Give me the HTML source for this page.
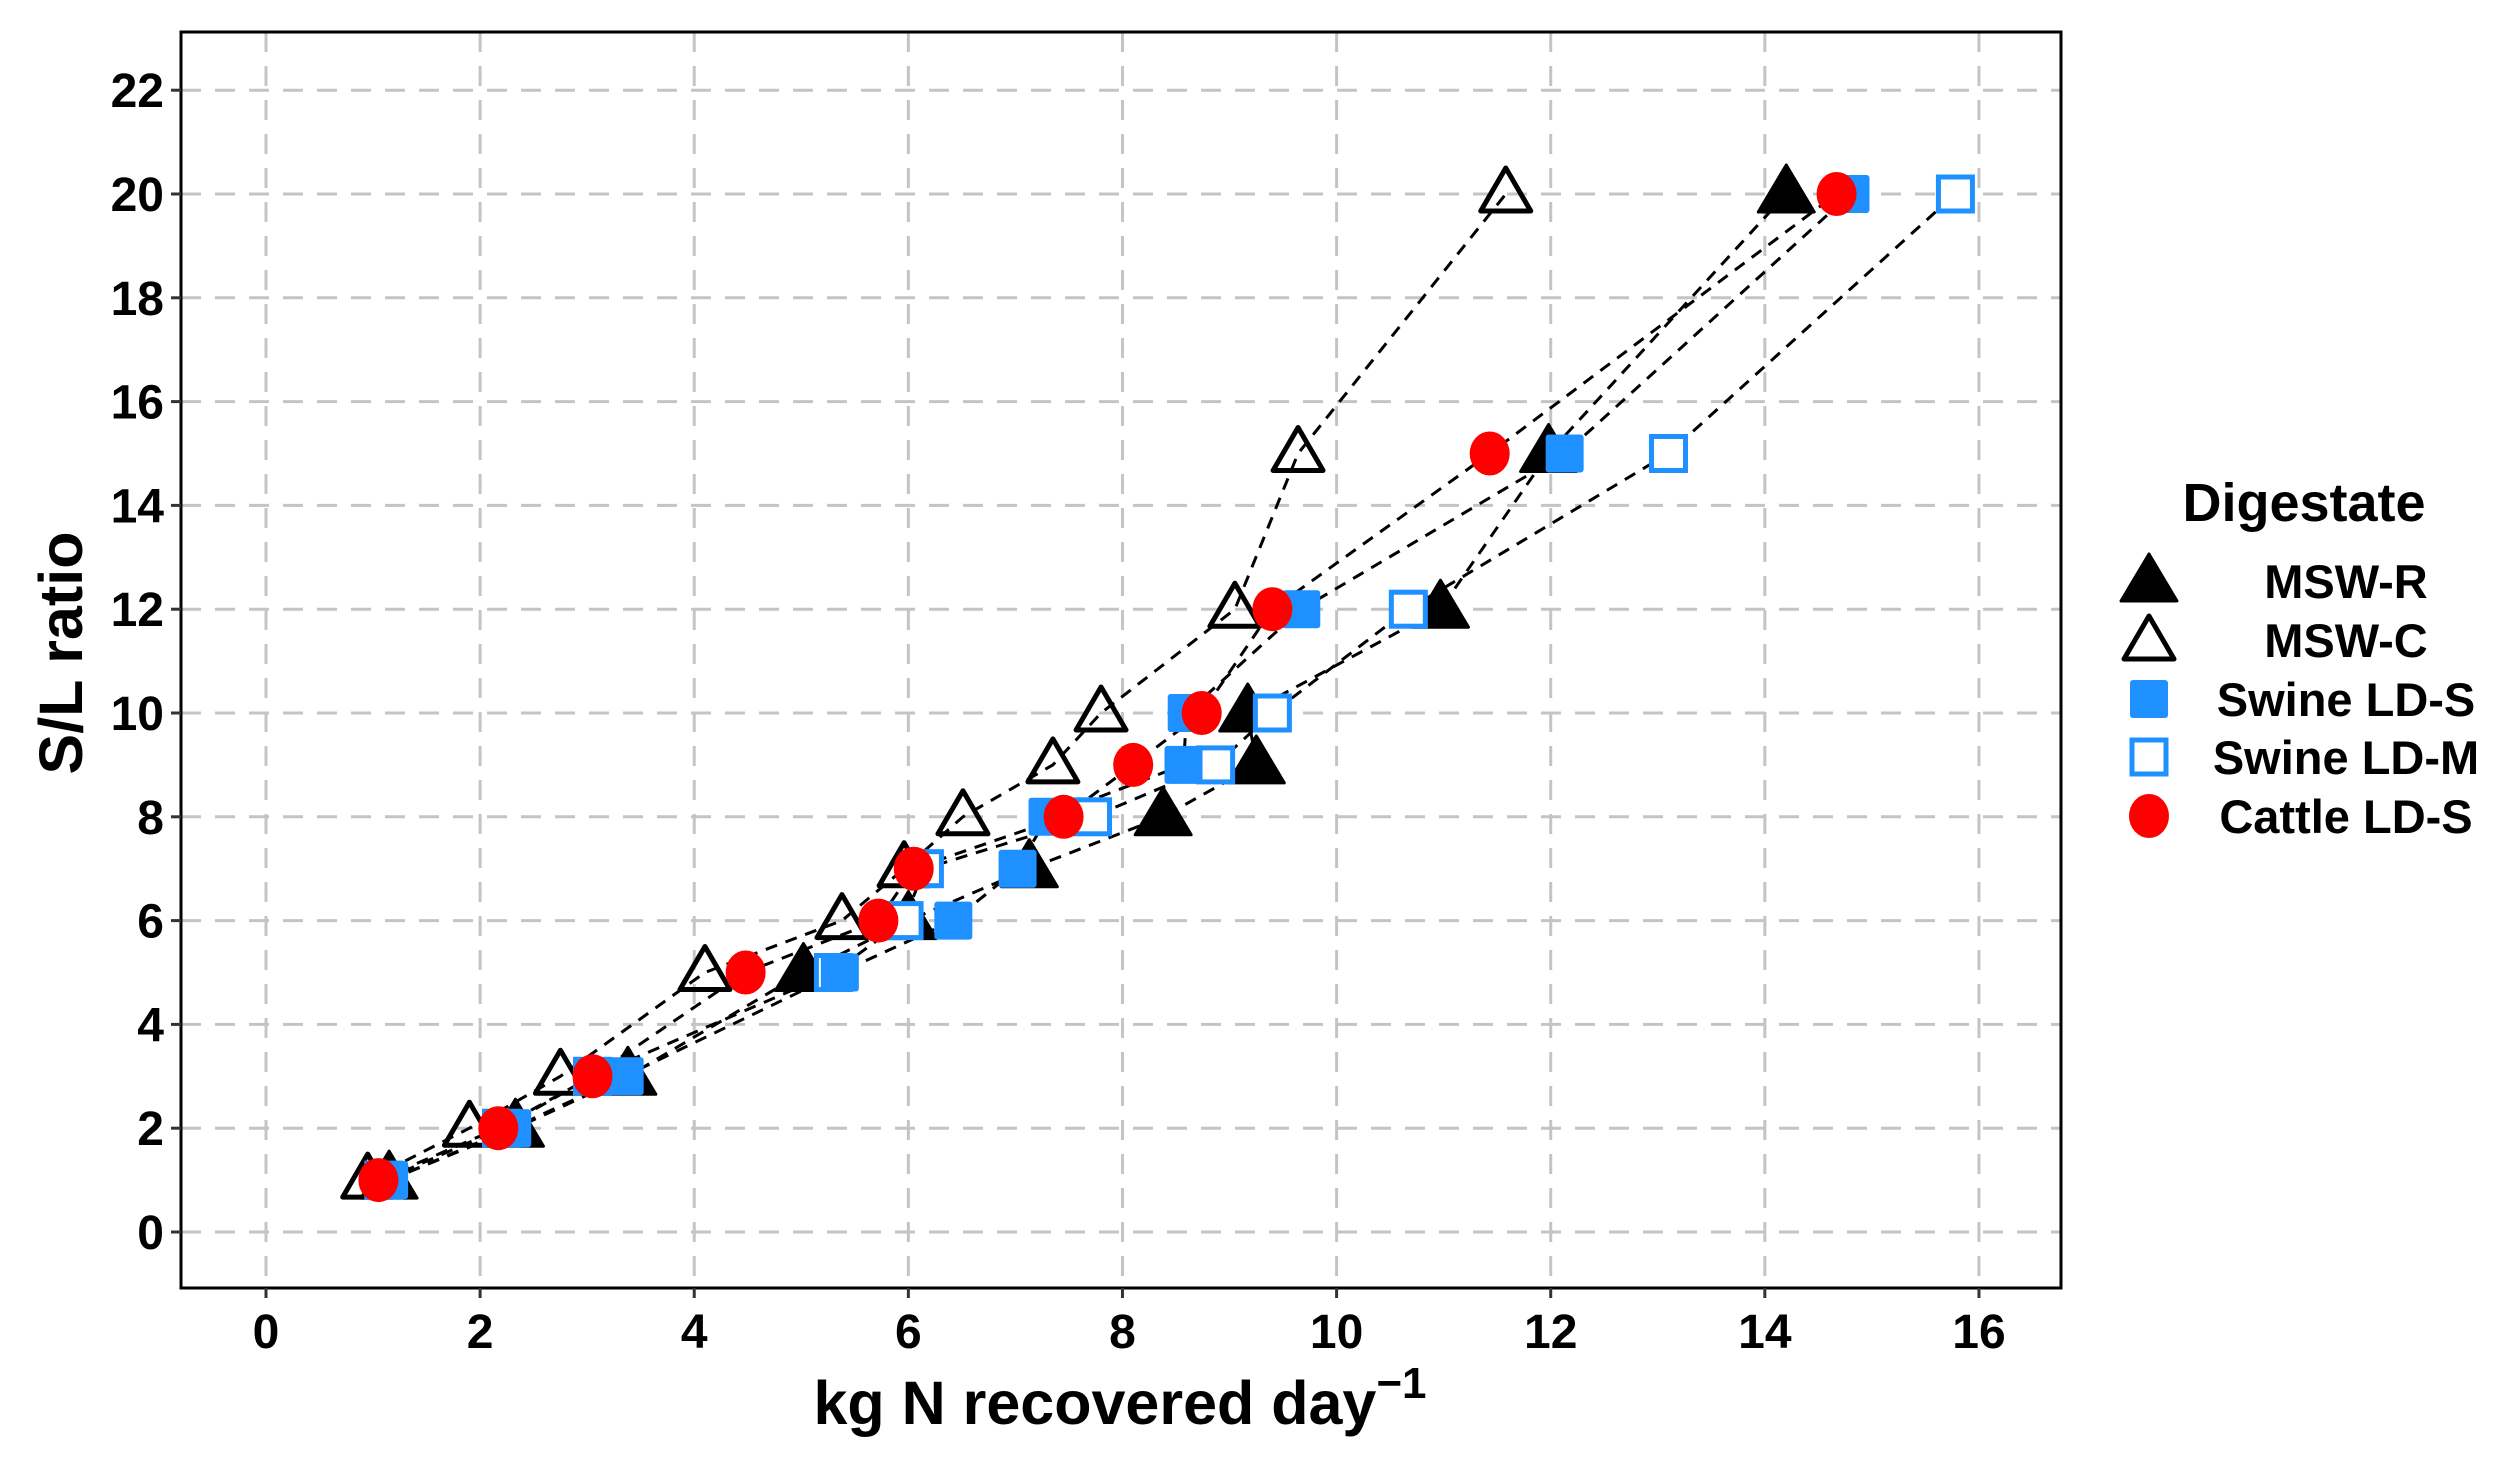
<!DOCTYPE html>
<html><head><meta charset="utf-8"><style>
html,body{margin:0;padding:0;background:#fff;}
svg{display:block;font-family:"Liberation Sans",Arial,sans-serif;font-weight:bold;}
</style></head><body>
<svg id="chart" width="2509" height="1462" viewBox="0 0 2509 1462" xmlns="http://www.w3.org/2000/svg">
<g id="grid"></g>
<g id="lines"></g>
<g id="marks"></g>
<rect x="181" y="32" width="1880" height="1256" fill="none" stroke="#000" stroke-width="3"/>
<g id="xticks"></g>
<g id="yticks"></g>
<text x="1120" y="1424" font-size="61" text-anchor="middle">kg N recovered day<tspan dy="-26" font-size="44">−1</tspan></text>
<text transform="translate(82,653) rotate(-90)" font-size="61" text-anchor="middle">S/L ratio</text>
<g id="legend">
<text x="2304" y="521" font-size="54" text-anchor="middle">Digestate</text>
</g>
</svg>
<script>
const xTicks=[0,2,4,6,8,10,12,14,16];
const yTicks=[0,2,4,6,8,10,12,14,16,18,20,22];
const slRatio=[1,2,3,5,6,7,8,9,10,12,15,20];
const mswR=[1.15,2.33,3.38,5.02,6.0,7.13,8.38,9.25,9.17,10.97,11.98,14.2];
const mswC=[0.95,1.9,2.75,4.1,5.38,5.96,6.51,7.35,7.8,9.05,9.64,11.58];
const swineS=[1.15,2.3,3.35,5.36,6.42,7.02,7.3,8.57,8.6,9.67,12.13,14.8];
const swineM=[1.1,2.2,3.05,5.3,5.96,6.15,7.72,8.87,9.4,10.67,13.1,15.78];
const cattle=[1.05,2.17,3.05,4.48,5.72,6.05,7.45,8.1,8.74,9.4,11.43,14.67];
const seriesNames=["MSW-R","MSW-C","Swine LD-S","Swine LD-M","Cattle LD-S"];

const NS="http://www.w3.org/2000/svg";
const X=v=>266+v*107.06, Y=v=>1232-v*51.9;
function mk(tag,attrs,parent){const e=document.createElementNS(NS,tag);for(const k in attrs)e.setAttribute(k,attrs[k]);parent.appendChild(e);return e;}
const grid=document.getElementById('grid'),xt=document.getElementById('xticks'),yt=document.getElementById('yticks');
xTicks.forEach(t=>{
 let l=mk('line',{x1:X(t),x2:X(t),y1:32,y2:1288,stroke:'#c4c4c4','stroke-width':3,'stroke-dasharray':'20 14'},grid);
 
 
 let k=mk('line',{x1:X(t),x2:X(t),y1:1288,y2:1298,stroke:'#333','stroke-width':3},xt);
 
 
 let s=mk('text',{x:X(t),y:1348,'font-size':48,'text-anchor':'middle'},xt);s.textContent=t;
 
 
});
yTicks.forEach(t=>{
 let l=mk('line',{x1:181,x2:2061,y1:Y(t),y2:Y(t),stroke:'#c4c4c4','stroke-width':3,'stroke-dasharray':'20 14'},grid);
 
 
 let k=mk('line',{x1:171,x2:181,y1:Y(t),y2:Y(t),stroke:'#333','stroke-width':3},yt);
 
 
 let s=mk('text',{x:164,y:Y(t)+17,'font-size':48,'text-anchor':'end'},yt);s.textContent=t;
 
 
});
function marker(type,cx,cy,parent){
 let e;
 if(type===0) e=mk('path',{d:`M${cx},${cy-29} L${cx+28},${cy+18} L${cx-28},${cy+18} Z`,fill:'#000','stroke':'#000','stroke-width':3,'stroke-linejoin':'round'},parent);
 else if(type===1) e=mk('path',{d:`M${cx},${cy-26} L${cx+25},${cy+17} L${cx-25},${cy+17} Z`,fill:'none',stroke:'#000','stroke-width':5,'stroke-linejoin':'round'},parent);
 else if(type===2) e=mk('rect',{x:cx-19,y:cy-19,width:38,height:38,rx:3,fill:'#1e90ff'},parent);
 else if(type===3) e=mk('rect',{x:cx-17,y:cy-17,width:34,height:34,fill:'#fff',stroke:'#1e90ff','stroke-width':5},parent);
 else e=mk('ellipse',{cx:cx,cy:cy,rx:20,ry:22,fill:'#ff0000'},parent);
 return e;
}
const all=[mswR,mswC,swineS,swineM,cattle];
const lines=document.getElementById('lines'),marks=document.getElementById('marks');
all.forEach((arr,i)=>{
 const pts=arr.map((v,j)=>X(v)+','+Y(slRatio[j])).join(' ');
 let p=mk('polyline',{points:pts,fill:'none',stroke:'#000','stroke-width':3,'stroke-dasharray':'12 9'},lines);
 
 
});
[1,0,3,2,4].forEach(i=>{
 all[i].forEach((v,j)=>{
  let m=marker(i,X(v),Y(slRatio[j]),marks);
  
  
 });
});
const lg=document.getElementById('legend');
const ly=[581,640,699,757,816];
seriesNames.forEach((n,i)=>{
 let m=marker(i,2149,ly[i]-(i<2?-2:0),lg);
 
 
 let t=mk('text',{x:2346,y:ly[i]+17,'font-size':47,'text-anchor':'middle'},lg);t.textContent=n;
 
 
});
</script>
</body></html>
